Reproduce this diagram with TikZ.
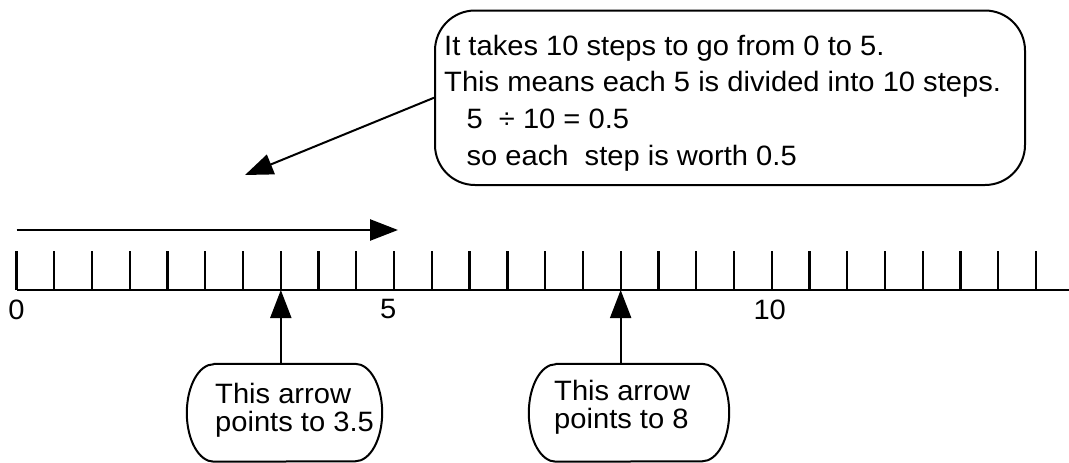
\documentclass[tikz,border=0pt]{standalone}
\usepackage{fontspec}
\setmainfont{Liberation Sans}
\usetikzlibrary{arrows.meta}

\begin{document}
\begin{tikzpicture}[x=1pt,y=-1pt,line join=round,
    >={Triangle[length=28pt,width=21pt]},
    words/.style={font=\fontsize{28}{36.7}\selectfont,xscale=1.04,inner sep=0pt,align=left},
    smallwords/.style={words,font=\fontsize{28}{28}\selectfont},
    frame/.style={line width=2pt},
    pill/.style={minimum height=97.5pt,inner sep=0pt}]
  \def\gap{37.76}
  \def\rx{27pt}
  \def\ry{48.75pt}

  \useasboundingbox (0,0) rectangle (1069,463);

  % number line and its steps
  \draw[line width=2.6pt] (16.5,290) -- (1069,290);
  \foreach \i in {0,...,27} {
    \coordinate (t\i) at (16.5+\i*\gap,290);
    \draw[line width=2.3pt] (t\i) -- ++(0,-39);
  }
  \node[words] (n0) at ([yshift=-19.5pt]t0) {0};
  \node[words] (n5) at ([xshift=-6pt,yshift=-19.5pt]t10) {5};
  \node[words] (n10) at ([xshift=-2pt,yshift=-19.5pt]t20) {10};

  % ten steps from 0 to 5
  \coordinate (go0) at (16.5,230);
  \coordinate (go5) at (398,230);
  \draw[->,line width=2.6pt] (go0) -- (go5);

  % explanation
  \node[frame,draw,rounded corners=40pt,minimum width=590pt,minimum height=174.5pt,
    inner sep=0pt,anchor=north west] (note) at (434,9.5) {};
  \node[words,anchor=north west] (notetext) at (444,34.8)
    {It takes 10 steps to go from 0 to 5.\\
     This means each 5 is divided into 10 steps.\\
     \hspace*{21.5pt}5\ \ ÷ 10 = 0.5\\
     \hspace*{21.5pt}so each\ \ step is worth 0.5};
  \coordinate (aim) at (245,175);
  \draw[->,frame] (note.west) -- (aim);

  % the two pointers
  \node[pill,minimum width=195pt] (c35) at (284.5,412.75) {};
  \node[pill,minimum width=200pt] (c8) at (629,412.75) {};
  \foreach \b in {c35,c8} {
    \draw[frame] ([xshift=\rx]\b.north west) -- ([xshift=-\rx]\b.north east)
      arc[start angle=90,end angle=-90,x radius=\rx,y radius=\ry]
      -- ([xshift=\rx]\b.south west)
      arc[start angle=270,end angle=90,x radius=\rx,y radius=\ry] -- cycle;
  }
  \node[smallwords,anchor=north west] (w35) at (215,383) {This arrow\\points to 3.5};
  \node[smallwords,anchor=north west] (w8) at (554,380.5) {This arrow\\points to 8};

  \draw[->,frame] (t7 |- c35.north) -- (t7);
  \draw[->,frame] (t16 |- c8.north) -- (t16);
\end{tikzpicture}
\end{document}
